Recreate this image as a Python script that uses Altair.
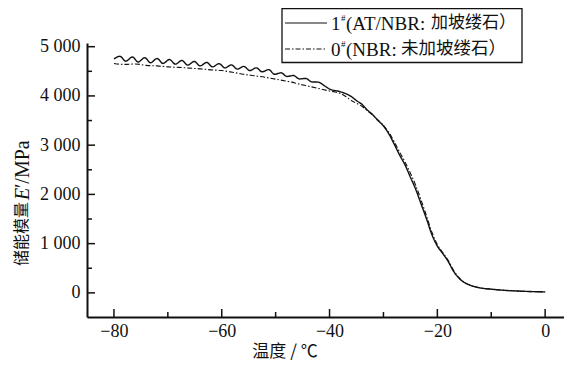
import altair as alt
import pandas as pd

# ---- data ----
temp_1 = [-80.0, -78.9, -77.8, -76.6, -75.5, -74.3, -73.2, -72.0, -70.9, -69.7,
          -68.6, -67.4, -66.3, -65.1, -64.0, -62.8, -61.7, -60.5, -59.4, -58.2,
          -57.1, -55.9, -54.8, -53.6, -52.5, -51.3, -50.2, -49.0, -47.9, -46.7,
          -45.6, -44.4, -43.3, -42.1, -41.0, -40.0, -38.0, -36.0, -35.0, -34.0,
          -33.0, -32.0, -31.0, -30.0, -29.0, -28.0, -27.0, -26.0, -25.0, -24.0,
          -23.0, -22.0, -21.0, -20.0, -19.0, -18.0, -17.0, -16.0, -15.0, -14.0,
          -13.0, -12.0, -10.0, -8.0, -6.0, -4.0, -2.0, 0.0]
mod_1 = [4750, 4805, 4705, 4790, 4690, 4775, 4675, 4760, 4660, 4740,
         4645, 4720, 4625, 4700, 4610, 4680, 4590, 4655, 4570, 4630,
         4545, 4600, 4515, 4570, 4490, 4535, 4440, 4470, 4395, 4415,
         4345, 4355, 4285, 4280, 4210, 4140, 4085, 3990, 3905, 3830,
         3715, 3620, 3500, 3390, 3230, 3020, 2800, 2600, 2350, 2100,
         1800, 1500, 1180, 950, 800, 640, 440, 300, 210, 160,
         125, 100, 75, 55, 42, 32, 25, 20]

temp_0 = [-80.0, -79.0, -78.0, -76.0, -74.0, -72.0, -70.0, -68.0, -66.0, -64.0,
          -62.0, -60.0, -58.0, -56.0, -54.0, -52.0, -50.0, -48.0, -47.0, -46.0,
          -44.0, -42.0, -40.0, -38.0, -37.0, -36.0, -35.0, -34.0, -33.0, -32.0,
          -31.0, -30.0, -29.0, -28.0, -27.0, -26.0, -25.0, -24.0, -23.0, -22.0,
          -21.0, -20.0, -19.0, -18.0, -17.0, -16.0, -15.0, -14.0, -13.0, -12.0,
          -10.0, -8.0, -6.0, -4.0, -2.0, 0.0]
mod_0 = [4660, 4645, 4640, 4650, 4620, 4610, 4590, 4580, 4565, 4550,
         4530, 4515, 4480, 4440, 4410, 4380, 4340, 4300, 4280, 4250,
         4200, 4150, 4100, 4050, 3990, 3910, 3850, 3790, 3700, 3610,
         3510, 3400, 3260, 3070, 2860, 2660, 2430, 2180, 1880, 1560,
         1230, 980, 820, 660, 460, 310, 215, 160, 125, 100,
         75, 55, 42, 32, 25, 20]

series_names = ["1#", "0#"]
y_major = [0, 1000, 2000, 3000, 4000, 5000]
y_minor = [500, 1500, 2500, 3500, 4500]
x_major = [-80, -60, -40, -20, 0]
x_minor = [-70, -50, -30, -10]

SERIF = "Liberation Serif"
CJK = "Noto Sans CJK SC"

df = pd.concat([
    pd.DataFrame({"t": temp_1, "E": mod_1, "s": series_names[0]}),
    pd.DataFrame({"t": temp_0, "E": mod_0, "s": series_names[1]}),
])

xs = alt.Scale(domain=[-85, 3.5], nice=False, zero=False)
ys = alt.Scale(domain=[-490, 5075], nice=False, zero=False)

xaxis = alt.Axis(values=x_major, title=None, grid=False, ticks=False,
                 tickSize=0, labelPadding=5, labelFont=SERIF,
                 labelFontSize=18, labelColor="#111",
                 domainColor="#111", domainWidth=2)
yaxis = alt.Axis(values=y_major, title=None, grid=False, ticks=False,
                 tickSize=0, labelPadding=7, labelFont=SERIF,
                 labelFontSize=18, labelColor="#111",
                 domainColor="#111", domainWidth=2,
                 labelExpr="replace(format(datum.value, ','), ',', ' ')")

W, H = 477, 274

lines = alt.Chart(df).mark_line(color="#111", interpolate="monotone").encode(
    x=alt.X("t:Q", scale=xs, axis=xaxis),
    y=alt.Y("E:Q", scale=ys, axis=yaxis),
    strokeDash=alt.StrokeDash("s:N", scale=alt.Scale(domain=series_names,
                              range=[[1, 0], [5, 2, 1.5, 2]]), legend=None),
    strokeWidth=alt.StrokeWidth("s:N", scale=alt.Scale(domain=series_names,
                                range=[1.4, 1.1]), legend=None),
    order="t:Q",
)

def yticks(vals, length):
    return alt.Chart(pd.DataFrame({"E": vals})).mark_rule(
        color="#111", strokeWidth=1.5).encode(
        y=alt.Y("E:Q", scale=ys, axis=yaxis),
        x=alt.value(0), x2=alt.value(length))

def xticks(vals, length):
    return alt.Chart(pd.DataFrame({"t": vals})).mark_rule(
        color="#111", strokeWidth=1.5).encode(
        x=alt.X("t:Q", scale=xs, axis=xaxis),
        y=alt.value(H), y2=alt.value(H - length))

one = pd.DataFrame({"a": [0]})

def txt(text, x, y, size=17, font=SERIF, align="left", angle=0, style="normal",
        baseline="middle"):
    kw = dict(text=text, align=align, baseline=baseline, font=font,
              fontSize=size, color="#111", fontStyle=style)
    if angle:
        kw["angle"] = angle
    return alt.Chart(one).mark_text(**kw).encode(x=alt.value(x), y=alt.value(y))

def seg(x1, x2, y, dash):
    kw = dict(color="#111", strokeWidth=1.2)
    if dash:
        kw["strokeDash"] = dash
    return alt.Chart(one).mark_rule(**kw).encode(
        x=alt.value(x1), x2=alt.value(x2), y=alt.value(y))

legend_box = alt.Chart(one).mark_rect(
    fill="white", stroke="#111", strokeWidth=1.3).encode(
    x=alt.value(195), x2=alt.value(435), y=alt.value(-34.5), y2=alt.value(19.5))

layers = [
    lines,
    yticks(y_major, 8), yticks(y_minor, 5),
    xticks(x_major, 8), xticks(x_minor, 5),
    legend_box,
    seg(198, 240, -20, None),
    seg(198, 240, 6, [5, 2, 1.5, 2]),
    txt("1", 244, -19.5, size=19),
    txt("#", 254, -25.5, size=9),
    txt("(AT/NBR:", 259, -19.5, size=19),
    txt("加坡缕石）", 344, -20, size=17, font=CJK),
    txt("0", 244, 6.5, size=19),
    txt("#", 254, 0.5, size=9),
    txt("(NBR:", 259, 6.5, size=19),
    txt("未加坡缕石）", 314, 6, size=17.5, font=CJK),
    txt("温度 / ℃", 198, 309, size=17, font=CJK, align="center"),
    txt("储能模量", -65, 223, size=16, font=CJK, angle=270),
    txt("E", -64, 157, size=20, style="italic", angle=270),
    txt("′/MPa", -64, 145, size=20, angle=270),
]

chart = alt.layer(*layers).properties(
    width=W, height=H,
    padding={"left": 79, "top": 35, "right": 0, "bottom": 45},
    autosize=alt.AutoSizeParams(type="none"),
).configure_view(stroke=None).configure_axis(labelFont=SERIF)

chart.save("out.html", embed_options={"renderer": "svg", "actions": False})
